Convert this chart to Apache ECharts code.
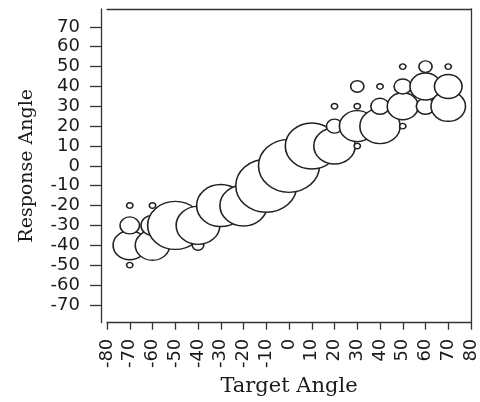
<!DOCTYPE html>
<html>
<head>
<meta charset="utf-8">
<script src="https://cdn.jsdelivr.net/npm/echarts@6/dist/echarts.min.js"></script>
<style>
    html, body { margin: 0; padding: 0; background: #fff; }
    #bubble_chart { width: 480px; height: 402px; }
</style>
</head>
<body>
<div id="bubble_chart"></div>
<script>
/** 数据: 目标角度 / 反应角度 / 圆的大小(直径, 像素) **/
var targetAngle   = [-70, -70, -70, -70, -60, -60, -60, -50, -40, -40, -30, -20, -10,  0, 10, 20, 20, 20, 30, 30, 30, 30, 40, 40, 40, 50, 50, 50, 50, 60, 60, 60, 70, 70, 70];
var responseAngle = [-50, -40, -30, -20, -40, -30, -20, -30, -40, -30, -20, -20, -10,  0, 10, 10, 20, 30, 10, 20, 30, 40, 20, 30, 40, 20, 30, 40, 50, 30, 40, 50, 30, 40, 50];
var bubbleSize    = [5.5, 29, 17, 5.5, 30, 20, 5.5, 48, 10, 38, 42, 41, 53, 53, 46, 36, 14, 5.5, 5.5, 31, 5.5, 11.5, 35, 16, 5.5, 5.5, 27, 15, 5.5, 16, 27, 11.5, 30, 24, 5.5];
var xTicks = [-80, -70, -60, -50, -40, -30, -20, -10, 0, 10, 20, 30, 40, 50, 60, 70, 80];
var yTicks = [-70, -60, -50, -40, -30, -20, -10, 0, 10, 20, 30, 40, 50, 60, 70];

function getBubbleData() {
    var data = [];
    for (var i = 0; i < targetAngle.length; i++) {
        data.push([targetAngle[i], responseAngle[i], bubbleSize[i]]);
    }
    return data;
}

/** 气泡图 设置 **/
function getBubbleOption() {
    var axisColor = '#333';
    var labelStyle = {
        color: '#1a1a1a',
        fontFamily: 'DejaVu Sans',
        fontSize: 18
    };
    var option = {
        animation: false,
        backgroundColor: '#fff',
        grid: {
            left: 107,
            right: 8,
            top: 9,
            bottom: 75
        },
        xAxis: [
            {
                type: 'value',
                min: -80,
                max: 80,
                interval: 10,
                name: 'Target Angle',
                nameLocation: 'middle',
                nameGap: 53,
                nameTextStyle: {
                    color: '#1a1a1a',
                    fontFamily: 'DejaVu Serif',
                    fontSize: 21
                },
                axisLine: { show: true, onZero: false, lineStyle: { color: axisColor, width: 1.3 } },
                axisTick: { show: true, length: 7, lineStyle: { color: axisColor, width: 1.3 } },
                axisLabel: Object.assign({ rotate: 90, margin: 16, customValues: xTicks }, labelStyle),
                splitLine: { show: false }
            },
            {
                type: 'value',
                position: 'top',
                min: -80,
                max: 80,
                axisLine: { show: true, onZero: false, lineStyle: { color: axisColor, width: 1.3 } },
                axisTick: { show: false },
                axisLabel: { show: false },
                splitLine: { show: false }
            }
        ],
        yAxis: [
            {
                type: 'value',
                min: -79,
                max: 79,
                offset: 6,
                name: 'Response Angle',
                nameLocation: 'middle',
                nameRotate: 90,
                nameGap: 64,
                nameTextStyle: {
                    color: '#1a1a1a',
                    fontFamily: 'DejaVu Serif',
                    fontSize: 19
                },
                axisLine: { show: true, onZero: false, lineStyle: { color: axisColor, width: 1.3 } },
                axisTick: { show: true, length: 11, customValues: yTicks, lineStyle: { color: axisColor, width: 1.3 } },
                axisLabel: Object.assign({ margin: 21, customValues: yTicks }, labelStyle),
                splitLine: { show: false }
            },
            {
                type: 'value',
                position: 'right',
                min: -79,
                max: 79,
                axisLine: { show: true, onZero: false, lineStyle: { color: axisColor, width: 1.3 } },
                axisTick: { show: false },
                axisLabel: { show: false },
                splitLine: { show: false }
            }
        ],
        series: [
            {
                type: 'scatter',
                data: getBubbleData(),
                symbol: 'circle',
                symbolSize: function (v) {
                    // 原图横向略拉伸, 圆显示为椭圆
                    return [v[2] * 1.15, v[2]];
                },
                itemStyle: {
                    color: '#fff',
                    borderColor: '#222',
                    borderWidth: 1.5,
                    opacity: 1
                },
                emphasis: { disabled: true },
                silent: true
            }
        ]
    };
    return option;
}

var myEcharts = echarts.init(document.getElementById('bubble_chart'), null, { renderer: 'canvas' });
myEcharts.setOption(getBubbleOption());
</script>
</body>
</html>
